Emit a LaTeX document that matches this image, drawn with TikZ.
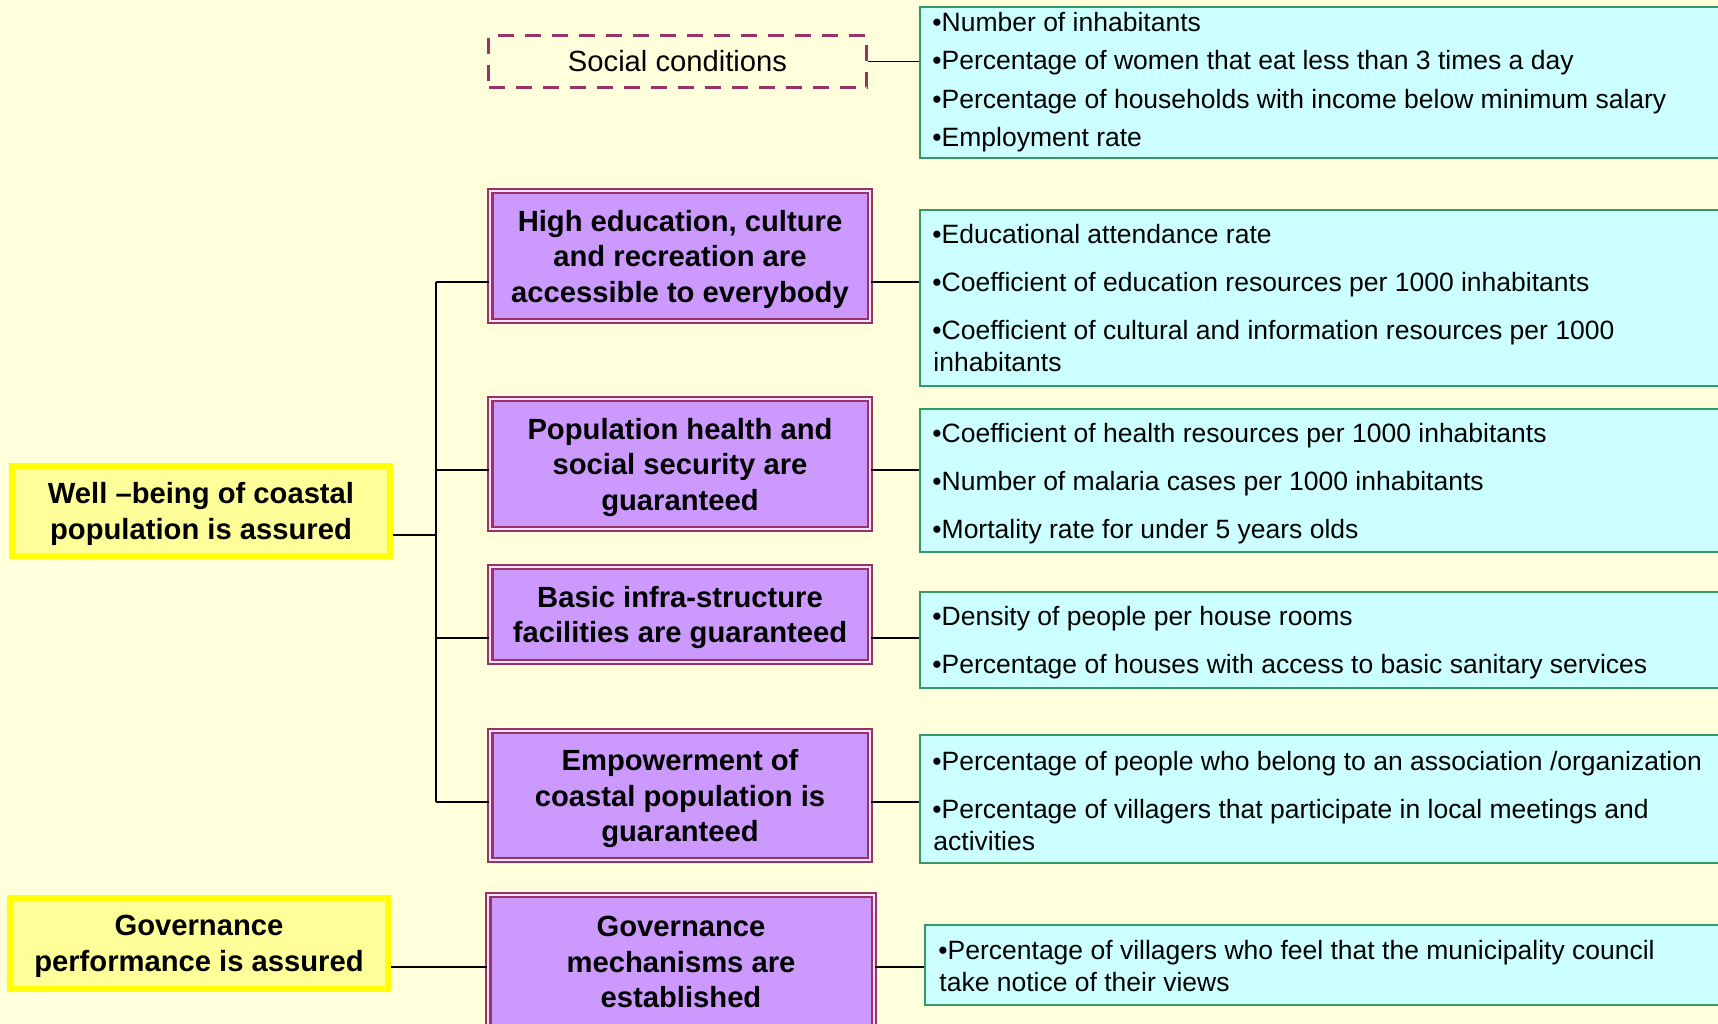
\documentclass[tikz,border=0pt]{standalone}
\usepackage{fontspec}
\setmainfont{Liberation Sans}
\definecolor{bg}{HTML}{FFFFDC}
\definecolor{mag}{HTML}{993366}
\definecolor{purp}{HTML}{CC99FF}
\definecolor{dgap}{HTML}{F4E2FF}
\definecolor{ylw}{HTML}{FFFF00}
\definecolor{ylwfill}{HTML}{FFFF99}
\definecolor{cyfill}{HTML}{CCFFFF}
\definecolor{cygreen}{HTML}{339966}
\begin{document}
\begin{tikzpicture}[x=0.5pt,y=-0.5pt,
  pbox/.style={draw=mag, double=dgap, double distance=0.8pt, line width=1.25pt,
    fill=purp, align=center, inner sep=0pt, text depth=0pt,
    font=\fontsize{14.6}{17.75}\selectfont\bfseries},
  ybox/.style={draw=ylw, line width=3pt, fill=ylwfill, align=center, inner sep=0pt,
    text depth=0pt, minimum width=189pt, font=\fontsize{14.6}{17.75}\selectfont\bfseries},
  dbox/.style={draw=mag, line width=1.5pt, dash pattern=on 8pt off 5.5pt,
    inner sep=0pt, minimum width=189pt, minimum height=26pt,
    font=\fontsize{14.6}{17.75}\selectfont},
  cbox/.style={draw=cygreen, line width=1pt, fill=cyfill, anchor=north west,
    inner sep=0pt, minimum width=405.5pt},
  ctext/.style={anchor=base west, inner sep=0pt, font=\fontsize{13.25}{16}\selectfont},
  conn/.style={draw=black, line width=0.85pt}]
\useasboundingbox (0,0) rectangle (1718,1023);
\fill[bg] (0,0) rectangle (1718,1023);

% cyan indicator boxes
\node[cbox, minimum height=75.5pt] (c1) at (919,6) {};
\node[cbox, minimum height=88pt] (c2) at (919,209) {};
\node[cbox, minimum height=71.5pt] (c3) at (919,408) {};
\node[cbox, minimum height=48pt] (c4) at (919,591) {};
\node[cbox, minimum height=64pt] (c5) at (919,734) {};
\node[cbox, minimum height=40pt] (c6) at (924,924) {};

% indicator texts
\node[ctext] (c1a) at (932,31.5) {•Number of inhabitants};
\node[ctext] (c1b) at (932,69.5) {•Percentage of women that eat less than 3 times a day};
\node[ctext] (c1c) at (932,108) {•Percentage of households with income below minimum salary};
\node[ctext] (c1d) at (932,146.5) {•Employment rate};

\node[ctext] (c2a) at (932,243) {•Educational attendance rate};
\node[ctext] (c2b) at (932,291) {•Coefficient of education resources per 1000 inhabitants};
\node[ctext] (c2c) at (932,339) {•Coefficient of cultural and information resources per 1000};
\node[ctext] (c2d) at (933,371) {inhabitants};

\node[ctext] (c3a) at (932,442) {•Coefficient of health resources per 1000 inhabitants};
\node[ctext] (c3b) at (932,490.5) {•Number of malaria cases per 1000 inhabitants};
\node[ctext] (c3c) at (932,538.5) {•Mortality rate for under 5 years olds};

\node[ctext] (c4a) at (932,625) {•Density of people per house rooms};
\node[ctext] (c4b) at (932,673.5) {•Percentage of houses with access to basic sanitary services};

\node[ctext] (c5a) at (932,770) {•Percentage of people who belong to an association /organization};
\node[ctext] (c5b) at (932,818) {•Percentage of villagers that participate in local meetings and};
\node[ctext] (c5c) at (933,850) {activities};

\node[ctext] (c6a) at (938,959.5) {•Percentage of villagers who feel that the municipality council};
\node[ctext] (c6b) at (939,991) {take notice of their views};

% dashed box
\node[dbox] (sc) at (677.5,61.5) {Social conditions};

% purple boxes
\node[pbox, minimum width=189.8pt, minimum height=65pt] (he) at (680,256)
  {High education, culture\\and recreation are\\accessible to everybody};
\node[pbox, minimum width=189.8pt, minimum height=65pt] (ph) at (680,464)
  {Population health and\\social security are\\guaranteed};
\node[pbox, minimum width=189.8pt, minimum height=47.5pt] (bi) at (680,614.5)
  {Basic infra-structure\\facilities are guaranteed};
\node[pbox, minimum width=189.8pt, minimum height=64.5pt] (em) at (680,795.5)
  {Empowerment of\\coastal population is\\guaranteed};
\node[pbox, minimum width=192.8pt, minimum height=67pt] (gm) at (681,962)
  {Governance\\mechanisms are\\established};

% yellow boxes
\node[ybox, minimum height=45pt] (wb) at (201,511)
  {Well –being of coastal\\population is assured};
\node[ybox, minimum height=45.5pt] (gp) at (199,943.5)
  {Governance\\performance is assured};

% junction coordinates
\coordinate (j1) at (436,282);
\coordinate (j2) at (436,470);
\coordinate (j3) at (436,638);
\coordinate (j4) at (436,802);
\coordinate (jw) at (436,535);
\coordinate (jg) at (436,967);

% connectors
\draw[conn] (sc.east) -- (sc.east -| c1.west);
\draw[conn] (j1) -- (j4);
\draw[conn] (jw -| wb.east) -- (jw);
\draw[conn] (j1) -- (j1 -| he.west);
\draw[conn] (j2) -- (j2 -| ph.west);
\draw[conn] (j3) -- (j3 -| bi.west);
\draw[conn] (j4) -- (j4 -| em.west);
\draw[conn] (j1 -| he.east) -- (j1 -| c2.west);
\draw[conn] (j2 -| ph.east) -- (j2 -| c3.west);
\draw[conn] (j3 -| bi.east) -- (j3 -| c4.west);
\draw[conn] (j4 -| em.east) -- (j4 -| c5.west);
\draw[conn] (jg -| gp.east) -- (jg -| gm.west);
\draw[conn] (jg -| gm.east) -- (jg -| c6.west);
\end{tikzpicture}
\end{document}
